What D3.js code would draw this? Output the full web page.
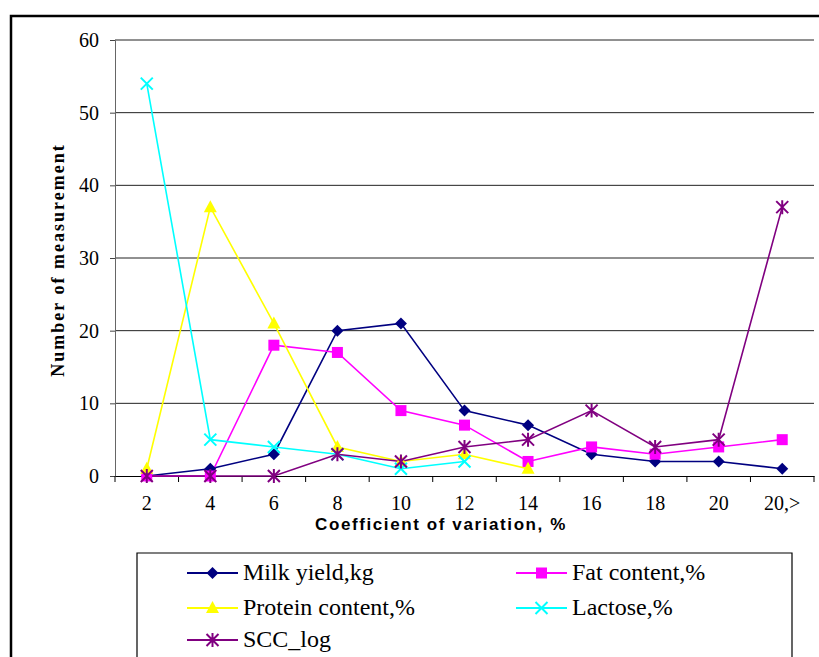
<!DOCTYPE html>
<html><head><meta charset="utf-8">
<script src="https://cdn.jsdelivr.net/npm/d3@7"></script>
<style>body{margin:0;background:#fff}svg{display:block}
.serif{font-family:"Liberation Serif","Times New Roman",Times,serif}
.sans{font-family:"Liberation Sans",Arial,Helvetica,sans-serif}
</style>
</head><body>
<svg id="c" width="819" height="657"></svg>
<script>
const categories = ["2","4","6","8","10","12","14","16","18","20","20,>"];
const milkYield = [0,1,3,20,21,9,7,3,2,2,1];
const fatContent = [0,0,18,17,9,7,2,4,3,4,5];
const proteinContent = [1,37,21,4,2,3,1,null,null,null,null];
const lactose = [54,5,4,3,1,2,null,null,null,null,null];
const sccLog = [0,0,0,3,2,4,5,9,4,5,37];
const yTicks = [0,10,20,30,40,50,60];

const series = [
  {name:"Milk yield,kg", values:milkYield, color:"#000080", marker:"diamond"},
  {name:"Fat content,%", values:fatContent, color:"#FF00FF", marker:"square"},
  {name:"Protein content,%", values:proteinContent, color:"#FFFF00", marker:"triangle"},
  {name:"Lactose,%", values:lactose, color:"#00FFFF", marker:"x"},
  {name:"SCC_log", values:sccLog, color:"#800080", marker:"star"}
];

const svg = d3.select("#c");
const L=115, R=814, T=40, B=476;
const x = d3.scaleBand().domain(categories).range([L,R]);
const y = d3.scaleLinear().domain([0,60]).range([B,T]);

// outer frame
svg.append("path").attr("d","M11,657 L11,16 L819,16").attr("fill","none").attr("stroke","#000").attr("stroke-width",2.5);

// gridlines
svg.append("g").selectAll("line").data(yTicks.filter(d=>d>0)).join("line")
  .attr("x1",L).attr("x2",R).attr("y1",d=>y(d)).attr("y2",d=>y(d))
  .attr("stroke","#222").attr("stroke-width",1);

// y axis
const ya = svg.append("g").attr("transform",`translate(${L},0)`)
  .call(d3.axisLeft(y).tickValues(yTicks).tickSize(5).tickPadding(11));
ya.attr("font-family",null).attr("font-size",null);
ya.select(".domain").attr("stroke","#666");
ya.selectAll(".tick line").attr("stroke","#444");
ya.selectAll("text").attr("class","serif").style("font-size","20px").attr("fill","#000");

// x axis
const xa = svg.append("g").attr("transform",`translate(0,${B})`)
  .call(d3.axisBottom(x).tickSize(0).tickPadding(20));
xa.attr("font-family",null).attr("font-size",null);
xa.select(".domain").attr("stroke","#000");
xa.selectAll("text").attr("class","serif").style("font-size","20px").attr("fill","#000");
// band boundary ticks
const bounds = categories.map(c=>x(c)).concat([R]);
svg.append("g").selectAll("line").data(bounds).join("line")
  .attr("x1",d=>d).attr("x2",d=>d).attr("y1",B).attr("y2",B+6).attr("stroke","#000");

// axis titles
svg.append("text").attr("class","sans").attr("x",441).attr("y",530).attr("text-anchor","middle")
  .style("font-weight","bold").style("font-size","17px").attr("letter-spacing",1.6)
  .text("Coefficient of variation, %");
svg.append("text").attr("class","serif").attr("transform","translate(64,260) rotate(-90)").attr("text-anchor","middle")
  .style("font-weight","bold").style("font-size","18px")
  .attr("letter-spacing",2).text("Number of measurement");

function marker(g, type, color, cx, cy){
  const s=6;
  if(type==="diamond") g.append("path").attr("d",`M${cx},${cy-s} L${cx+s},${cy} L${cx},${cy+s} L${cx-s},${cy} Z`).attr("fill",color);
  else if(type==="square") g.append("rect").attr("x",cx-5.5).attr("y",cy-5.5).attr("width",11).attr("height",11).attr("fill",color);
  else if(type==="triangle") g.append("path").attr("d",`M${cx},${cy-7} L${cx+6.5},${cy+5} L${cx-6.5},${cy+5} Z`).attr("fill",color);
  else if(type==="x") g.append("path").attr("d",`M${cx-6},${cy-6} L${cx+6},${cy+6} M${cx-6},${cy+6} L${cx+6},${cy-6}`).attr("stroke",color).attr("stroke-width",2);
  else if(type==="star") g.append("path").attr("d",`M${cx-6},${cy-6} L${cx+6},${cy+6} M${cx-6},${cy+6} L${cx+6},${cy-6} M${cx},${cy-7} L${cx},${cy+7}`).attr("stroke",color).attr("stroke-width",2);
}

const line = d3.line().defined(d=>d.v!=null).x(d=>x(d.c)+x.bandwidth()/2).y(d=>y(d.v));
series.forEach(s=>{
  const pts = categories.map((c,i)=>({c, v:s.values[i]}));
  svg.append("path").datum(pts).attr("d",line).attr("fill","none").attr("stroke",s.color).attr("stroke-width",1.6);
});
series.forEach(s=>{
  const g = svg.append("g");
  categories.forEach((c,i)=>{
    const v=s.values[i]; if(v==null) return;
    marker(g, s.marker, s.color, x(c)+x.bandwidth()/2, y(v));
  });
});

// legend
svg.append("path").attr("d","M137,657 L137,553 L792,553 L792,657").attr("fill","none").attr("stroke","#000").attr("stroke-width",1.2);
const legPos = [[187,573],[516,573],[187,608],[516,608],[187,640]];
series.forEach((s,i)=>{
  const [lx,ly]=legPos[i];
  const g=svg.append("g");
  g.append("line").attr("x1",lx).attr("x2",lx+51).attr("y1",ly).attr("y2",ly).attr("stroke",s.color).attr("stroke-width",1.8);
  marker(g, s.marker, s.color, lx+25.5, ly);
  g.append("text").attr("class","serif").attr("x",lx+56).attr("y",ly+7).style("font-size","24px").text(s.name);
});
</script>
</body></html>
